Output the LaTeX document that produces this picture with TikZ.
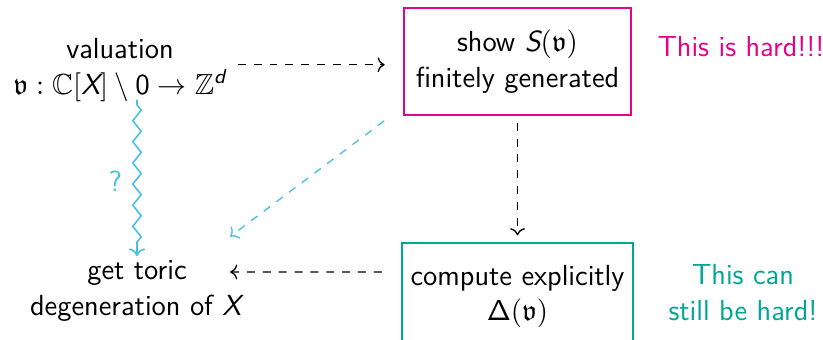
\documentclass[tikz,border=0pt]{standalone}
\usepackage{amsmath,amssymb}
\usetikzlibrary{arrows.meta,decorations.pathmorphing}
\definecolor{hardpink}{RGB}{230,0,140}
\definecolor{stillteal}{RGB}{0,166,148}
\definecolor{qcyan}{RGB}{74,192,222}
\newcommand{\vfrak}{\mathfrak{v}}
\newcommand{\sit}[1]{\text{\itshape #1}}

\begin{document}
\sffamily
\begin{tikzpicture}[x=0.0133cm,y=-0.0133cm,font=\fontsize{11}{13.6}\selectfont]
\tikzstyle{lbl}=[align=center,inner sep=1pt]
\tikzstyle{bx}=[draw,line width=0.75pt,align=center,minimum width=85.8pt,minimum height=40.4pt]
\tikzstyle{dar}=[->,dashed,line width=0.5pt]
\useasboundingbox (0,0) rectangle (823,339);
% nodes
\node[lbl] (val) at (120,70) {valuation\\ $\vfrak:\mathbb{C}[\sit{X}]\setminus \mathsf{0}\to\mathbb{Z}^{\sit{d}}$};
\node[bx,draw=hardpink] (fg) at (517.5,61.5) {show $\sit{S}(\vfrak)$\\ finitely generated};
\node[lbl,text=hardpink] (hard) at (741,47) {This is hard!!!};
\node[bx,draw=stillteal] (comp) at (517.5,296.5) {compute explicitly\\ $\mathsf{\Delta}(\vfrak)$};
\node[lbl,text=stillteal] (still) at (743,293) {This can\\ still be hard!};
\node[lbl] (deg) at (137,291) {get toric\\ degeneration of \textit{X}};
% arrows
\draw[dar,shorten <=3pt,shorten >=7pt] ([yshift=2pt]val.east) -- ([yshift=2pt]val.east -| fg.west);
\draw[dar,shorten <=2.6pt,shorten >=2.6pt] (fg.south) -- (comp.north);
\draw[dar] ([shift={(-7.2pt,9.3pt)}]comp.west) -- ([shift={(-6.4pt,7.2pt)}]deg.east);
\draw[dar,qcyan] ([shift={(-7.2pt,-1.9pt)}]fg.south west) -- ([shift={(-6.4pt,7.9pt)}]deg.north east);
\draw[->,qcyan,line width=0.6pt,decorate,decoration={zigzag,amplitude=1.6pt,segment length=8pt,post length=2pt},shorten <=2pt,shorten >=0.5pt]
  (val.south -| deg.north) -- node[left=2pt,text=qcyan] (q) {?} (deg.north);
\end{tikzpicture}
\end{document}
